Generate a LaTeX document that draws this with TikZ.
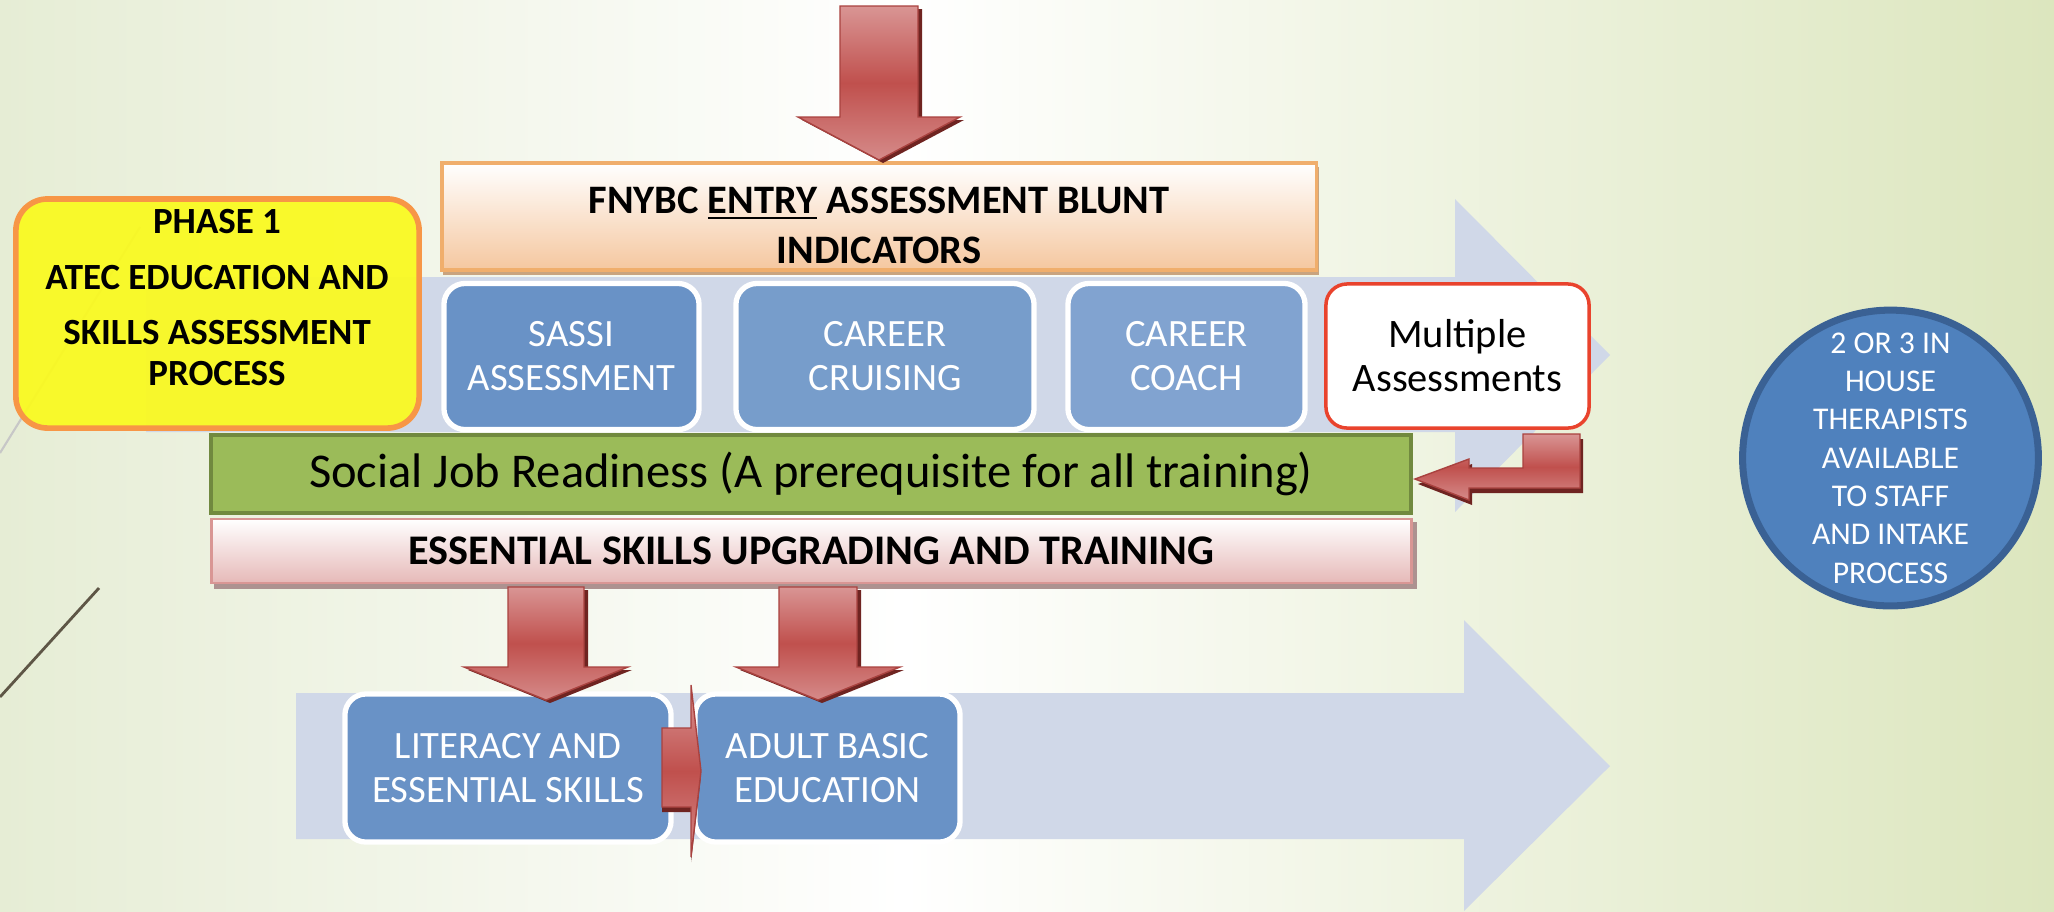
\documentclass[tikz,border=0pt]{standalone}
\usepackage{fontspec}
\setmainfont{Carlito}
\definecolor{bgL}{HTML}{E6EDD5}
\definecolor{bgR}{HTML}{DCE6BE}
\definecolor{twig}{HTML}{5E5646}
\definecolor{flowblue}{HTML}{D0D8E8}
\definecolor{boxblueA}{HTML}{6992C6}
\definecolor{boxblueB}{HTML}{779DCB}
\definecolor{boxblueC}{HTML}{81A3D0}
\definecolor{phaseyellow}{HTML}{FAFA1E}
\definecolor{phaseorange}{HTML}{F79646}
\definecolor{peach}{HTML}{F5C79F}
\definecolor{peachline}{HTML}{F0AE6C}
\definecolor{peachshadow}{HTML}{C9A47F}
\definecolor{readygreen}{HTML}{9BBB59}
\definecolor{readyline}{HTML}{71893F}
\definecolor{pinkbar}{HTML}{E6B9B8}
\definecolor{pinkline}{HTML}{D99694}
\definecolor{pinkshadow}{HTML}{AD9290}
\definecolor{multired}{HTML}{E9432D}
\definecolor{arrtop}{HTML}{D99594}
\definecolor{arrmid}{HTML}{C0504D}
\definecolor{arrline}{HTML}{A9423F}
\definecolor{arrdark}{HTML}{6F2421}
\definecolor{circblue}{HTML}{4F81BD}
\definecolor{circline}{HTML}{3A6194}
\pgfdeclarehorizontalshading{slidebg}{100bp}{color(0bp)=(bgL); color(25bp)=(bgL); color(47bp)=(white); color(75bp)=(bgR); color(100bp)=(bgR)}
\tikzset{
  flowbox/.style={draw=white, line width=1.5pt, rounded corners=6pt, text=white, align=center,
    inner sep=0pt, minimum height=1.46cm, font=\fontsize{11}{12.5}\selectfont},
  redarrow/.style={top color=arrtop, bottom color=arrtop!85!arrmid, middle color=arrmid,
    draw=arrline, line width=0.4pt},
  arrowshadow/.style={fill=arrdark},
}
\begin{document}
\begin{tikzpicture}[x=0.01cm,y=-0.01cm]
\useasboundingbox (0,0) rectangle (2054,911);
\shade[shading=slidebg] (0,0) rectangle (2054,911);
\draw[twig,line width=0.8pt] (99,588)--(0,697);
\draw[black!22,line width=0.6pt] (140,227)--(0,453);
\fill[flowblue] (146,277)--(1455,277)--(1455,199)--(1610,355)--(1455,512)--(1455,432)--(146,432)--cycle;
\fill[flowblue] (296,693)--(1464,693)--(1464,620)--(1610,766)--(1464,911)--(1464,839)--(296,839)--cycle;
\node[fill=phaseyellow, fill opacity=0.93, draw=phaseorange, line width=1.6pt, rounded corners=9pt,
  minimum width=4.03cm, minimum height=2.29cm] (phasebox) at (217.5,313.5) {};
\node[font=\bfseries\fontsize{10.5}{11.5}\selectfont, align=center] (phase) at (217,297.5)
  {PHASE 1\\[4.3pt]ATEC EDUCATION AND\\[4.3pt]SKILLS ASSESSMENT\\PROCESS};
\fill[peachshadow] (443,167) rectangle (1319,275);
\node[top color=white, bottom color=peach, draw=peachline, line width=1pt,
  minimum width=8.74cm, minimum height=1.07cm] (entrybox) at (879,216.5) {};
\node[font=\bfseries\fontsize{11.5}{14.2}\selectfont, align=center] (entry) at (879,225)
  {FNYBC \underline{ENTRY} ASSESSMENT BLUNT\\INDICATORS};
\node[flowbox, fill=boxblueA, minimum width=2.55cm] (sassi) at (571.5,356.5) {SASSI\\ASSESSMENT};
\node[flowbox, fill=boxblueB, minimum width=2.98cm] (cruising) at (885,356.5) {CAREER\\CRUISING};
\node[flowbox, fill=boxblueC, minimum width=2.37cm] (coach) at (1186.5,356.5) {CAREER\\COACH};
\node[flowbox, fill=white, draw=multired, line width=1pt, text=black, minimum width=2.63cm,
  minimum height=1.44cm, font=\fontsize{11.5}{12.5}\selectfont] (multiple) at (1457.5,356) {Multiple\\Assessments};
\node[fill=readygreen, draw=readyline, line width=1.2pt, minimum width=12cm, minimum height=0.78cm,
  font=\fontsize{13.8}{16}\selectfont] (ready) at (811,474) {Social Job Readiness (A prerequisite for all training)};
\fill[pinkshadow] (214,522) rectangle (1417,589);
\node[top color=white, bottom color=pinkbar, draw=pinkline, line width=0.8pt, minimum width=12cm,
  minimum height=0.64cm, font=\bfseries\fontsize{12}{14}\selectfont] (essential) at (811.5,551)
  {ESSENTIAL SKILLS UPGRADING AND TRAINING};
\node[flowbox, fill=boxblueA, minimum width=3.26cm, minimum height=1.48cm] (literacy) at (508,768) {LITERACY AND\\ESSENTIAL SKILLS};
\node[flowbox, fill=boxblueA, minimum width=2.65cm, minimum height=1.48cm] (adult) at (827.5,768) {ADULT BASIC\\EDUCATION};
\node[circle, fill=circblue, draw=circline, line width=2pt, minimum size=2.9cm, inner sep=0pt,
  text=white, align=center, font=\fontsize{9}{10.9}\selectfont] (therapists) at (1890.5,458)
  {2 OR 3 IN\\HOUSE\\THERAPISTS\\AVAILABLE\\TO STAFF\\AND INTAKE\\PROCESS};
\foreach \cx/\yt/\yh/\yp/\sw/\hw in {879/6/117/160/39/81, 546/587/667/700/38/82, 818/587/667/700/39/82}{
  \fill[arrowshadow,shift={(4,3)}] ({\cx-\sw},\yt)--({\cx+\sw},\yt)--({\cx+\sw},\yh)--({\cx+\hw},\yh)
    --(\cx,\yp)--({\cx-\hw},\yh)--({\cx-\sw},\yh)--cycle;
  \draw[redarrow] ({\cx-\sw},\yt)--({\cx+\sw},\yt)--({\cx+\sw},\yh)--({\cx+\hw},\yh)
    --(\cx,\yp)--({\cx-\hw},\yh)--({\cx-\sw},\yh)--cycle;
}
\fill[arrowshadow,shift={(3,5)}] (1523,434)--(1580,434)--(1580,488)--(1469,488)--(1469,500)--(1415,479)
  --(1469,459)--(1469,468)--(1523,468)--cycle;
\draw[redarrow] (1523,434)--(1580,434)--(1580,488)--(1469,488)--(1469,500)--(1415,479)
  --(1469,459)--(1469,468)--(1523,468)--cycle;
\fill[arrowshadow,shift={(0,5)}] (662,728)--(691,728)--(691,685)--(701,771)--(691,857)--(691,807)--(662,807)--cycle;
\draw[redarrow] (662,728)--(691,728)--(691,685)--(701,771)--(691,857)--(691,807)--(662,807)--cycle;
\end{tikzpicture}
\end{document}
